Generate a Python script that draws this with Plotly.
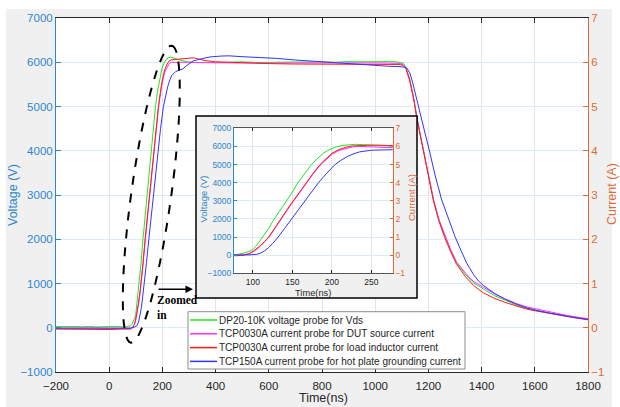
import numpy as np
import plotly.graph_objects as go

# ---------------- data ----------------
legend_names = ["DP20-10K voltage probe for Vds",
                "TCP0030A current probe for DUT source current",
                "TCP0030A current probe for load inductor current",
                "TCP150A current probe for hot plate grounding current"]
colors = ["#22e622", "#ff33ff", "#ff1a1a", "#3333ff"]

# green: Vds voltage (V)
t_green = [-200, -175, -150, -125, -100, -75, -50, -25, 0, 25, 50, 70, 80, 85, 90, 95, 100, 106, 112,
           120, 127, 135, 142, 150, 157, 165, 174, 182, 190, 198, 206, 214, 222, 230, 240, 250, 262,
           275, 290, 310, 330, 360, 400, 450, 500, 550, 600, 650, 700, 750, 800, 850, 900, 950, 1000,
           1050, 1080, 1095, 1105, 1115, 1130, 1145, 1156, 1168, 1181, 1200, 1219, 1240, 1262, 1285,
           1306, 1340, 1369, 1406, 1450, 1490, 1532, 1570, 1600, 1657, 1720, 1760, 1800]
v_green = [25, 30, 20, 28, 22, 30, 18, 26, 24, 30, 22, 25, 40, 70, 130, 210, 310, 620, 1000,
           1480, 2000, 2500, 3000, 3480, 4000, 4500, 5000, 5350, 5650, 5850, 5980, 6060, 6100, 6115,
           6100, 6080, 6050, 6030, 6010, 6000, 5990, 6000, 5990, 6000, 6010, 5995, 6000, 6010, 6000,
           6005, 6010, 6000, 6015, 6010, 6020, 6015, 6010, 6000, 5980, 5900, 5620, 5180, 4775, 4400,
           4022, 3430, 2893, 2430, 2063, 1730, 1462, 1200, 1017, 880, 720, 620, 510, 440, 400, 330,
           260, 225, 195]

# magenta: DUT source current (A)
t_mag = [-200, -150, -100, -50, 0, 50, 80, 88, 95, 100, 105, 110, 115, 120, 127, 135, 143, 151, 159,
         167, 176, 185, 193, 200, 209, 218, 226, 235, 250, 275, 300, 350, 400, 500, 600, 700, 800,
         900, 1000, 1050, 1090, 1105, 1115, 1130, 1145, 1156, 1168, 1181, 1200, 1219, 1240, 1262,
         1285, 1306, 1340, 1369, 1406, 1450, 1490, 1532, 1570, 1600, 1657, 1720, 1760, 1800]
i_mag = [-0.01, -0.015, -0.005, -0.01, -0.012, -0.008, -0.01, 0.01, 0.08, 0.19, 0.33, 0.53, 0.74,
         0.98, 1.42, 1.96, 2.46, 2.96, 3.46, 3.96, 4.47, 4.96, 5.30, 5.56, 5.78, 5.90, 5.97, 6.00,
         6.00, 6.01, 6.00, 5.99, 5.985, 5.99, 5.98, 5.985, 5.99, 5.98, 5.985, 5.98, 5.975, 5.95,
         5.88, 5.60, 5.17, 4.77, 4.40, 4.02, 3.43, 2.90, 2.44, 2.08, 1.75, 1.49, 1.23, 1.05, 0.92,
         0.76, 0.65, 0.545, 0.47, 0.43, 0.35, 0.28, 0.24, 0.205]

# red: load inductor current (A)
t_red = [-200, -150, -100, -50, 0, 50, 80, 88, 95, 100, 105, 110, 115, 120, 127, 135, 143, 151, 159,
         167, 176, 185, 193, 200, 209, 218, 226, 235, 245, 260, 275, 300, 316, 330, 360, 400, 441,
         500, 550, 600, 692, 750, 800, 900, 943, 1000, 1050, 1090, 1105, 1115, 1130, 1145, 1156,
         1168, 1181, 1200, 1219, 1240, 1262, 1285, 1306, 1340, 1369, 1406, 1450, 1490, 1532, 1570,
         1600, 1657, 1720, 1760, 1800]
i_red = [-0.03, -0.035, -0.025, -0.03, -0.04, -0.03, -0.03, 0.0, 0.08, 0.20, 0.35, 0.55, 0.76,
         1.00, 1.45, 2.00, 2.50, 3.00, 3.50, 4.00, 4.50, 5.00, 5.35, 5.62, 5.83, 5.96, 6.03, 6.06,
         6.06, 6.07, 6.07, 6.09, 6.10, 6.08, 6.04, 6.01, 6.00, 5.98, 5.975, 5.97, 5.96, 5.96, 5.955,
         5.96, 5.96, 5.955, 5.95, 5.95, 5.93, 5.86, 5.58, 5.15, 4.75, 4.38, 4.00, 3.40, 2.87, 2.40,
         2.03, 1.70, 1.43, 1.15, 0.96, 0.79, 0.66, 0.57, 0.49, 0.42, 0.385, 0.32, 0.25, 0.215, 0.18]

# blue: hot plate grounding current (A)
t_blue = [-200, -150, -100, -50, 0, 50, 80, 95, 105, 110, 115, 120, 125, 132, 140, 149, 157, 166,
          174, 183, 193, 204, 212, 220, 228, 235, 250, 265, 277, 290, 300, 316, 341, 379, 420, 450,
          503, 560, 630, 700, 755, 820, 880, 950, 1006, 1050, 1093, 1110, 1120, 1130, 1140, 1150,
          1162, 1175, 1188, 1203, 1225, 1250, 1275, 1300, 1320, 1344, 1370, 1388, 1406, 1450, 1490,
          1532, 1570, 1600, 1657, 1720, 1760, 1800]
i_blue = [-0.01, -0.005, -0.012, -0.008, -0.01, -0.01, -0.01, 0.015, 0.05, 0.12, 0.25, 0.42, 0.65,
          1.00, 1.47, 2.00, 2.48, 3.00, 3.48, 4.00, 4.50, 5.00, 5.25, 5.45, 5.60, 5.70, 5.79, 5.83,
          5.85, 5.92, 5.96, 6.03, 6.07, 6.12, 6.14, 6.145, 6.125, 6.11, 6.087, 6.05, 6.026, 6.00,
          5.975, 5.945, 5.922, 5.91, 5.90, 5.89, 5.86, 5.76, 5.56, 5.30, 5.00, 4.70, 4.38, 4.02,
          3.45, 2.89, 2.45, 2.06, 1.78, 1.46, 1.20, 1.06, 0.96, 0.77, 0.64, 0.53, 0.45, 0.40, 0.33,
          0.26, 0.22, 0.19]

x_ticks = [-200, 0, 200, 400, 600, 800, 1000, 1200, 1400, 1600, 1800]
v_ticks = [-1000, 0, 1000, 2000, 3000, 4000, 5000, 6000, 7000]
i_ticks = [-1, 0, 1, 2, 3, 4, 5, 6, 7]
inset_x_ticks = [100, 150, 200, 250]

# ---------------- layout helpers ----------------
W, H = 620, 407
PL, PR, PT, PB = 56, 588, 18, 372   # main plot area in pixels


def pp(x, y):
    return (x - PL) / (PR - PL), (PB - y) / (PB - PT)


BLUE = "#2f86cc"
ORANGE = "#dd6b3a"
DARK = "#262626"
FONT = "Liberation Sans, Arial, sans-serif"

fig = go.Figure()

# main traces
fig.add_trace(go.Scatter(x=t_green, y=v_green, mode="lines", line=dict(color=colors[0], width=1),
                         xaxis="x", yaxis="y", name=legend_names[0], showlegend=False))
for t, i, c, n in [(t_mag, i_mag, colors[1], legend_names[1]),
                   (t_red, i_red, colors[2], legend_names[2]),
                   (t_blue, i_blue, colors[3], legend_names[3])]:
    fig.add_trace(go.Scatter(x=t, y=i, mode="lines", line=dict(color=c, width=1),
                             xaxis="x", yaxis="y2", name=n, showlegend=False))

# inset background box (own subplot, drawn above main grid)
bx0, by0 = pp(196, 298)
bx1, by1 = pp(417, 116)
fig.add_trace(go.Scatter(x=[0, 1, 1, 0, 0], y=[0, 0, 1, 1, 0], fill="toself", fillcolor="#f0f0f0",
                         mode="lines", line=dict(width=0, color="#f0f0f0"), xaxis="x2", yaxis="y3",
                         hoverinfo="skip", showlegend=False))

# inset traces
fig.add_trace(go.Scatter(x=t_green, y=v_green, mode="lines", line=dict(color=colors[0], width=1),
                         xaxis="x3", yaxis="y4", showlegend=False))
for t, i, c in [(t_mag, i_mag, colors[1]), (t_red, i_red, colors[2]), (t_blue, i_blue, colors[3])]:
    fig.add_trace(go.Scatter(x=t, y=i, mode="lines", line=dict(color=c, width=1),
                             xaxis="x3", yaxis="y5", showlegend=False))

ix0, iy0 = pp(234, 273.3)
ix1, iy1 = pp(392.7, 128.3)

fig.update_layout(
    width=W, height=H,
    margin=dict(l=PL, r=W - PR, t=PT, b=H - PB, pad=0),
    paper_bgcolor="#f0f0f0", plot_bgcolor="white",
    font=dict(family=FONT, color=DARK),
    showlegend=False,
    xaxis=dict(domain=[0, 1], range=[-200, 1800], tickvals=x_ticks, ticks="inside", ticklen=5,
               tickcolor=DARK, showline=True, linecolor=DARK, linewidth=1, mirror="ticks",
               gridcolor="#e4e4e4", zeroline=False, tickfont=dict(size=11.5, color=DARK),
               ticklabelstandoff=3, anchor="y"),
    yaxis=dict(domain=[0, 1], range=[-1000, 7000], tickvals=v_ticks, ticks="inside", ticklen=5,
               tickcolor=BLUE, showline=True, linecolor=BLUE, linewidth=1,
               gridcolor="#deeaf4", zeroline=False, tickfont=dict(size=11.5, color=BLUE),
               anchor="x"),
    yaxis2=dict(overlaying="y", side="right", range=[-1, 7], tickvals=i_ticks, ticks="inside",
                ticklen=5, tickcolor=ORANGE, showline=True, linecolor=ORANGE, linewidth=1,
                showgrid=False, zeroline=False, tickfont=dict(size=11.5, color=ORANGE), anchor="x"),
    xaxis2=dict(domain=[bx0, bx1], range=[0, 1], visible=False, anchor="y3", fixedrange=True),
    yaxis3=dict(domain=[by0, by1], range=[0, 1], visible=False, anchor="x2", fixedrange=True),
    xaxis3=dict(domain=[ix0, ix1], range=[76, 277], tickvals=inset_x_ticks, ticks="inside",
                ticklen=3, tickcolor=DARK, showline=True, linecolor="#555555", linewidth=1,
                mirror="ticks", gridcolor="#e4e4e4", zeroline=False,
                tickfont=dict(size=8.5, color=DARK), anchor="y4"),
    yaxis4=dict(domain=[iy0, iy1], range=[-1000, 7000], tickvals=v_ticks, ticks="inside",
                ticklen=3, tickcolor=BLUE, showline=True, linecolor=BLUE, linewidth=1,
                gridcolor="#deeaf4", zeroline=False, tickfont=dict(size=8.5, color=BLUE),
                anchor="x3"),
    yaxis5=dict(overlaying="y4", side="right", range=[-1, 7], tickvals=i_ticks, ticks="inside",
                ticklen=3, tickcolor=ORANGE, showline=True, linecolor=ORANGE, linewidth=1,
                showgrid=False, zeroline=False, tickfont=dict(size=8.5, color=ORANGE),
                anchor="x3"),
)

shapes = []
# white strips around the grey figure
for (x0, y0, x1, y1) in [(0, 0, W, 9), (0, 0, 6, H), (612, 0, W, H)]:
    a0, b0 = pp(x0, y1)
    a1, b1 = pp(x1, y0)
    shapes.append(dict(type="rect", xref="paper", yref="paper", x0=a0, y0=b0, x1=a1, y1=b1,
                       fillcolor="white", line=dict(width=0), layer="below"))
# inset border
shapes.append(dict(type="rect", xref="paper", yref="paper", x0=bx0, y0=by0, x1=bx1, y1=by1,
                   line=dict(color="black", width=1.5), layer="above"))

# dashed ellipse marking the zoomed region
cx, cy = 151.3, 194.2
ux, uy = 40.7, -295.0
ln = (ux ** 2 + uy ** 2) ** 0.5
ux, uy = ux / ln, uy / ln
vx, vy = -uy, ux
a_semi, b_semi = ln / 2 + 1, 20.0
pts = []
for k in range(73):
    th = 2 * np.pi * k / 72
    px = cx + a_semi * np.cos(th) * ux + b_semi * np.sin(th) * vx
    py = cy + a_semi * np.cos(th) * uy + b_semi * np.sin(th) * vy
    pts.append(pp(px, py))
path = "M " + " L ".join(f"{x:.5f},{y:.5f}" for x, y in pts) + " Z"
shapes.append(dict(type="path", xref="paper", yref="paper", path=path,
                   line=dict(color="black", width=2, dash="dash"), layer="above"))

# manual legend (compact like the original)
lg0 = pp(188, 369)
lg1 = pp(465, 311.7)
shapes.append(dict(type="rect", xref="paper", yref="paper", x0=lg0[0], y0=lg0[1], x1=lg1[0],
                   y1=lg1[1], fillcolor="white", line=dict(color="#8c8c8c", width=1),
                   layer="above"))
row_y = [320.0, 333.8, 347.6, 361.4]
annotations = []
for name, col, ry in zip(legend_names, colors, row_y):
    s0 = pp(190, ry)
    s1 = pp(217, ry)
    shapes.append(dict(type="line", xref="paper", yref="paper", x0=s0[0], y0=s0[1], x1=s1[0],
                       y1=s1[1], line=dict(color=col, width=1.5), layer="above"))
    tx, ty = pp(217, ry)
    annotations.append(dict(xref="paper", yref="paper", x=tx, y=ty, xanchor="left",
                            yanchor="middle", text=name, showarrow=False,
                            font=dict(size=10, color=DARK, family=FONT)))

# axis titles
def title(txt, x, y, size, color, angle=0):
    ax_, ay_ = pp(x, y)
    annotations.append(dict(xref="paper", yref="paper", x=ax_, y=ay_, text=txt, showarrow=False,
                            textangle=angle, xanchor="center", yanchor="middle",
                            font=dict(size=size, color=color, family=FONT)))


title("Voltage (V)", 13, 195, 12.5, BLUE, -90)
title("Current (A)", 612, 194, 12.5, ORANGE, -90)
title("Time(ns)", 323, 398, 12.5, DARK)
title("Voltage (V)", 202.5, 199, 9.5, BLUE, -90)
title("Current (A)", 411.5, 197.5, 9.5, ORANGE, -90)
title("Time(ns)", 313.3, 292.5, 9.3, DARK)

# arrow + "Zoomed in"
ah = pp(193, 289.3)
annotations.append(dict(xref="paper", yref="paper", x=ah[0], y=ah[1], ax=-36, ay=0, text="",
                        showarrow=True, arrowhead=2, arrowsize=1, arrowwidth=1.5,
                        arrowcolor="black"))
zt = pp(155, 292)
annotations.append(dict(xref="paper", yref="paper", x=zt[0], y=zt[1], xanchor="left",
                        yanchor="top", align="left", text="<b>Zoomed</b><br><b>in</b>",
                        showarrow=False,
                        font=dict(size=11.5, color="black", family="Liberation Serif, Times New Roman, serif")))

fig.update_layout(shapes=shapes, annotations=annotations)
fig.write_html("out.html", config={"displayModeBar": False},
               post_script="document.body.style.margin='0';document.body.style.overflow='hidden';")
